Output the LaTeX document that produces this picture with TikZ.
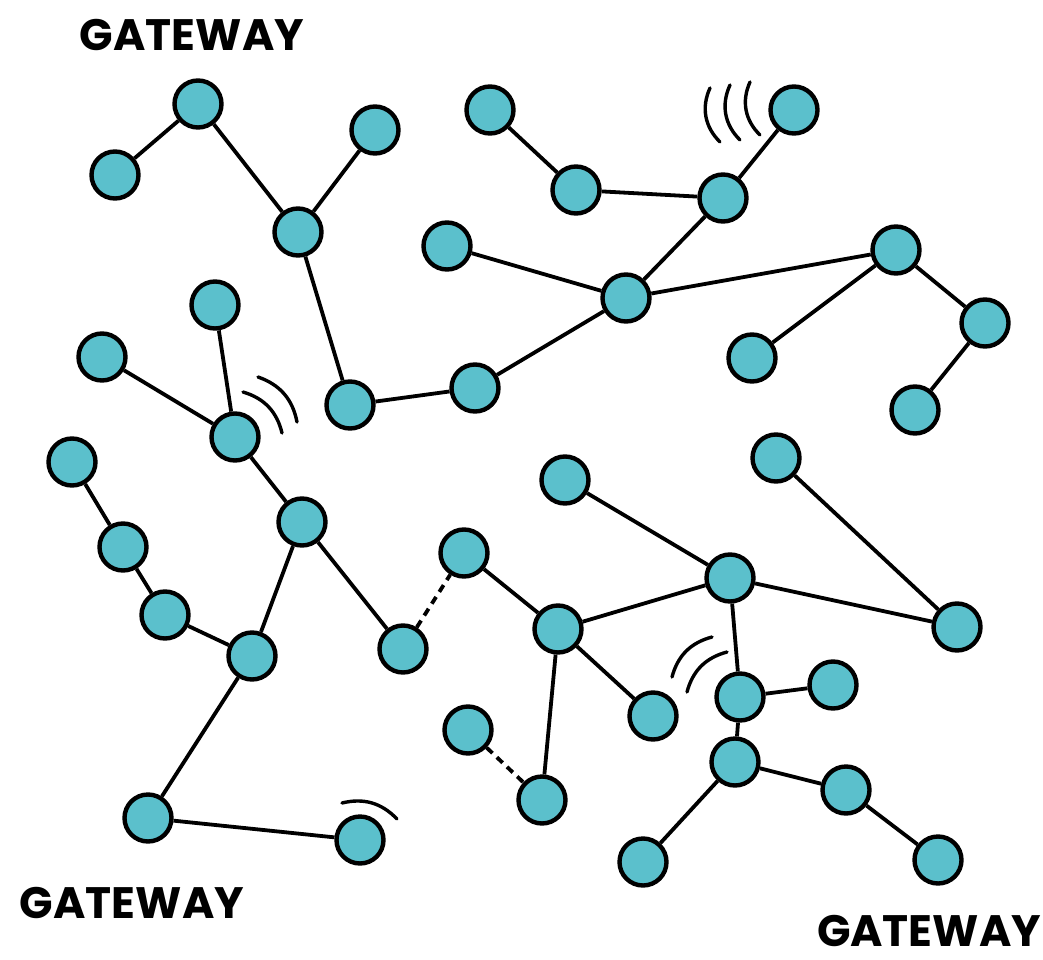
\documentclass[tikz,border=0pt]{standalone}
\usepackage{fontspec}
\newfontfamily\gwfont{Poppins}
\definecolor{nodeteal}{RGB}{91,192,204}
\begin{document}
\begin{tikzpicture}[x=1pt,y=-1pt,
  dev/.style={circle,draw=black,fill=nodeteal,line width=4.4pt,minimum size=47pt,inner sep=0pt},
  link/.style={line width=3.8pt},
  weak/.style={line width=3.8pt,dash pattern=on 8pt off 6pt},
  wave/.style={line width=3.4pt,line cap=round},
  gw/.style={font=\gwfont\bfseries\fontsize{44}{44}\selectfont,inner sep=0pt}]
\useasboundingbox (0,0) rectangle (1043,960);
\node[dev] (n1) at (198,104) {};
\node[dev] (n2) at (115,175) {};
\node[dev] (n3) at (375,130) {};
\node[dev] (n4) at (298,232) {};
\node[dev] (n5) at (490,110) {};
\node[dev] (n6) at (576,190) {};
\node[dev] (n7) at (723,198) {};
\node[dev] (n8) at (794,110) {};
\node[dev] (n9) at (447,246) {};
\node[dev] (n10) at (626,298) {};
\node[dev] (n11) at (896,250) {};
\node[dev] (n12) at (985,323) {};
\node[dev] (n13) at (752,358) {};
\node[dev] (n14) at (915,410) {};
\node[dev] (n15) at (215,305) {};
\node[dev] (n16) at (102,357) {};
\node[dev] (n17) at (350,405) {};
\node[dev] (n18) at (475,388) {};
\node[dev] (n19) at (235,437) {};
\node[dev] (n20) at (72,462) {};
\node[dev] (n21) at (302,522) {};
\node[dev] (n22) at (123,547) {};
\node[dev] (n23) at (165,615) {};
\node[dev] (n24) at (252,656) {};
\node[dev] (n25) at (403,649) {};
\node[dev] (n26) at (464,553) {};
\node[dev] (n27) at (565,480) {};
\node[dev] (n28) at (776,458) {};
\node[dev] (n29) at (730,578) {};
\node[dev] (n30) at (558,629) {};
\node[dev] (n31) at (957,627) {};
\node[dev] (n32) at (653,716) {};
\node[dev] (n33) at (740,697) {};
\node[dev] (n34) at (833,685) {};
\node[dev] (n35) at (468,730) {};
\node[dev] (n36) at (542,800) {};
\node[dev] (n37) at (735,762) {};
\node[dev] (n38) at (846,790) {};
\node[dev] (n39) at (148,818) {};
\node[dev] (n40) at (360,840) {};
\node[dev] (n41) at (643,862) {};
\node[dev] (n42) at (938,860) {};
% links
\foreach \a/\b in {n2/n1,n1/n4,n3/n4,n4/n17,n17/n18,n18/n10,n5/n6,n6/n7,n7/n8,n7/n10,
  n9/n10,n10/n11,n11/n12,n11/n13,n12/n14,n15/n19,n16/n19,n19/n21,n20/n22,n22/n23,
  n23/n24,n21/n24,n21/n25,n26/n30,n30/n29,n27/n29,n29/n31,n28/n31,n29/n33,n30/n32,
  n30/n36,n33/n34,n33/n37,n37/n38,n38/n42,n37/n41,n24/n39,n39/n40}
  \draw[link] (\a) -- (\b);
\draw[weak] (n25) -- (n26);
\draw[weak] (n35) -- (n36);
% waves
\coordinate (w1a) at (710,88);  \coordinate (w1b) at (720,142);
\coordinate (w2a) at (730,85);  \coordinate (w2b) at (740,140);
\coordinate (w3a) at (750,82);  \coordinate (w3b) at (760,135);
\draw[wave] (w1a) to[bend right=35] (w1b);
\draw[wave] (w2a) to[bend right=35] (w2b);
\draw[wave] (w3a) to[bend right=35] (w3b);
\coordinate (w4a) at (243,392); \coordinate (w4b) at (282,433);
\coordinate (w5a) at (258,377); \coordinate (w5b) at (297,422);
\draw[wave] (w4a) to[bend left=30] (w4b);
\draw[wave] (w5a) to[bend left=30] (w5b);
\coordinate (w6a) at (672,677); \coordinate (w6b) at (712,637);
\coordinate (w7a) at (687,692); \coordinate (w7b) at (727,652);
\draw[wave] (w6a) to[bend left=30] (w6b);
\draw[wave] (w7a) to[bend left=30] (w7b);
\coordinate (w8a) at (342,803); \coordinate (w8b) at (397,819);
\draw[wave] (w8a) to[bend left=30] (w8b);
% gateways
\node[gw] (g1) at (192,35) {GATEWAY};
\node[gw] (g2) at (132,903) {GATEWAY};
\node[gw] (g3) at (929,931) {GATEWAY};
\end{tikzpicture}
\end{document}
